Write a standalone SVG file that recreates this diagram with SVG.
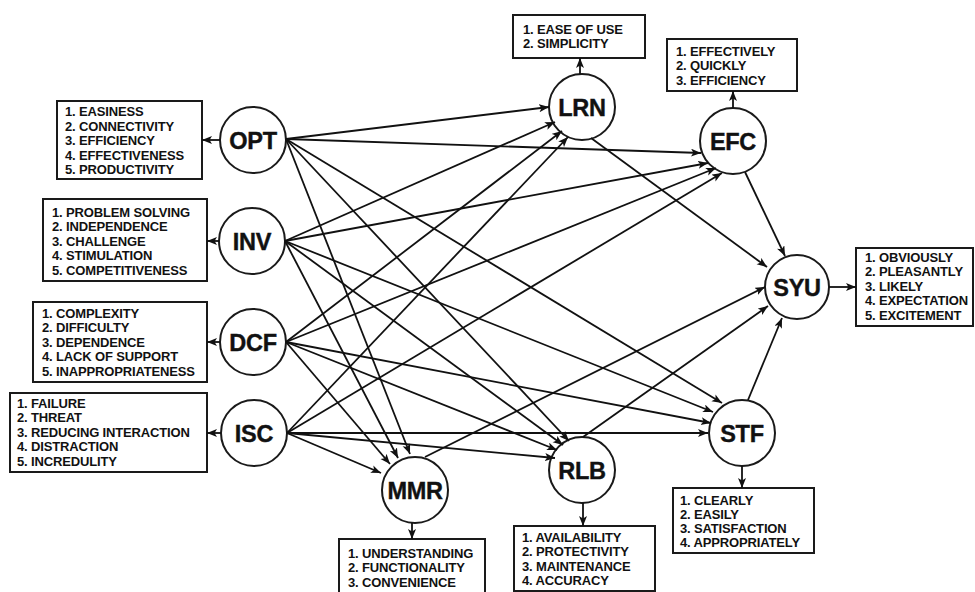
<svg xmlns="http://www.w3.org/2000/svg" width="975" height="592" viewBox="0 0 975 592">
<defs>
<style>
.box{fill:#fff;stroke:#1a1a1a;stroke-width:2}
.nd{fill:#fff;stroke:#1a1a1a;stroke-width:2}
.lbl{font-family:"Liberation Sans",Arial,sans-serif;font-weight:bold;font-size:23.5px;fill:#111;stroke:#111;stroke-width:0.4;text-anchor:middle;letter-spacing:-0.3px}
.it{font-family:"Liberation Sans",Arial,sans-serif;font-weight:bold;font-size:13px;fill:#111;letter-spacing:-0.15px}
.c line{stroke:#111;stroke-width:1.8;fill:none;marker-end:url(#ah)}
</style>
<marker id="ah" markerUnits="userSpaceOnUse" markerWidth="11" markerHeight="9" refX="10" refY="4" orient="auto" viewBox="0 0 11 9">
<path d="M0,0 L10,4 L0,8 L2.4,4 z" fill="#111"/>
</marker>
</defs>
<rect width="975" height="592" fill="#fff"/>

<g id="OPT">
<rect class="box" x="57" y="101" width="145" height="78"/>
<text class="it" x="65" y="116">1. EASINESS</text>
<text class="it" x="65" y="130.6">2. CONNECTIVITY</text>
<text class="it" x="65" y="145.2">3. EFFICIENCY</text>
<text class="it" x="65" y="159.8">4. EFFECTIVENESS</text>
<text class="it" x="65" y="174.4">5. PRODUCTIVITY</text>
<circle class="nd" cx="253" cy="140" r="33"/>
<text class="lbl" x="253" y="148.5">OPT</text>
</g>

<g id="INV">
<rect class="box" x="43" y="199" width="164" height="82"/>
<text class="it" x="52" y="216.5">1. PROBLEM SOLVING</text>
<text class="it" x="52" y="231">2. INDEPENDENCE</text>
<text class="it" x="52" y="245.5">3. CHALLENGE</text>
<text class="it" x="52" y="260">4. STIMULATION</text>
<text class="it" x="52" y="274.5">5. COMPETITIVENESS</text>
<circle class="nd" cx="252" cy="241" r="33"/>
<text class="lbl" x="252" y="249.5">INV</text>
</g>

<g id="DCF">
<rect class="box" x="33" y="302" width="174" height="80"/>
<text class="it" x="42" y="317.5">1. COMPLEXITY</text>
<text class="it" x="42" y="332">2. DIFFICULTY</text>
<text class="it" x="42" y="346.5">3. DEPENDENCE</text>
<text class="it" x="42" y="361">4. LACK OF SUPPORT</text>
<text class="it" x="42" y="375.5">5. INAPPROPRIATENESS</text>
<circle class="nd" cx="253" cy="342" r="33"/>
<text class="lbl" x="253" y="350.5">DCF</text>
</g>

<g id="ISC">
<rect class="box" x="10" y="393" width="197" height="79"/>
<text class="it" x="17" y="407.5">1. FAILURE</text>
<text class="it" x="17" y="422">2. THREAT</text>
<text class="it" x="17" y="436.5">3. REDUCING INTERACTION</text>
<text class="it" x="17" y="451">4. DISTRACTION</text>
<text class="it" x="17" y="465.5">5. INCREDULITY</text>
<circle class="nd" cx="254" cy="433" r="33"/>
<text class="lbl" x="254" y="441.5">ISC</text>
</g>

<g id="LRN">
<rect class="box" x="513" y="15" width="132" height="43"/>
<text class="it" x="523" y="33.5">1. EASE OF USE</text>
<text class="it" x="523" y="48">2. SIMPLICITY</text>
<circle class="nd" cx="582" cy="107" r="33"/>
<text class="lbl" x="582" y="115.5">LRN</text>
</g>

<g id="EFC">
<rect class="box" x="667" y="39" width="130" height="52"/>
<text class="it" x="676" y="55.5">1. EFFECTIVELY</text>
<text class="it" x="676" y="70">2. QUICKLY</text>
<text class="it" x="676" y="84.5">3. EFFICIENCY</text>
<circle class="nd" cx="733" cy="141" r="33"/>
<text class="lbl" x="733" y="149.5">EFC</text>
</g>

<g id="SYU">
<rect class="box" x="856" y="248" width="117" height="78"/>
<text class="it" x="865" y="261.5">1. OBVIOUSLY</text>
<text class="it" x="865" y="276">2. PLEASANTLY</text>
<text class="it" x="865" y="290.5">3. LIKELY</text>
<text class="it" x="865" y="305">4. EXPECTATION</text>
<text class="it" x="865" y="319.5">5. EXCITEMENT</text>
<circle class="nd" cx="797" cy="287" r="32"/>
<text class="lbl" x="797" y="295.5">SYU</text>
</g>

<g id="STF">
<rect class="box" x="673" y="488" width="141" height="65"/>
<text class="it" x="680" y="504.5">1. CLEARLY</text>
<text class="it" x="680" y="518.8">2. EASILY</text>
<text class="it" x="680" y="533.1">3. SATISFACTION</text>
<text class="it" x="680" y="547.4">4. APPROPRIATELY</text>
<circle class="nd" cx="742" cy="433" r="33"/>
<text class="lbl" x="742" y="441.5">STF</text>
</g>

<g id="RLB">
<rect class="box" x="514" y="526" width="141" height="65"/>
<text class="it" x="522" y="541.5">1. AVAILABILITY</text>
<text class="it" x="522" y="556">2. PROTECTIVITY</text>
<text class="it" x="522" y="570.5">3. MAINTENANCE</text>
<text class="it" x="522" y="585">4. ACCURACY</text>
<circle class="nd" cx="582" cy="470" r="33"/>
<text class="lbl" x="582" y="478.5">RLB</text>
</g>

<g id="MMR">
<rect class="box" x="339" y="539" width="146" height="58"/>
<text class="it" x="348" y="557.5">1. UNDERSTANDING</text>
<text class="it" x="348" y="572">2. FUNCTIONALITY</text>
<text class="it" x="348" y="586.5">3. CONVENIENCE</text>
<circle class="nd" cx="415" cy="490" r="33"/>
<text class="lbl" x="415" y="498.5">MMR</text>
</g>

<g id="connectors" class="c">
<line x1="220" y1="140" x2="202" y2="140"/>
<line x1="219" y1="241" x2="207" y2="241"/>
<line x1="220" y1="342" x2="207" y2="342"/>
<line x1="221" y1="433" x2="207" y2="433"/>
<line x1="580" y1="74" x2="580" y2="58"/>
<line x1="733" y1="108" x2="733" y2="91"/>
<line x1="829" y1="287" x2="856" y2="287"/>
<line x1="742" y1="466" x2="742" y2="488"/>
<line x1="583" y1="503" x2="583" y2="526"/>
<line x1="412" y1="523" x2="412" y2="539"/>

<line x1="286" y1="139" x2="549" y2="107"/>
<line x1="286" y1="139" x2="701" y2="153"/>
<line x1="286" y1="139" x2="722" y2="403"/>
<line x1="286" y1="139" x2="569" y2="441"/>
<line x1="286" y1="139" x2="410" y2="454"/>

<line x1="285" y1="241" x2="555" y2="122"/>
<line x1="285" y1="241" x2="708" y2="163"/>
<line x1="285" y1="241" x2="713" y2="412"/>
<line x1="285" y1="241" x2="563" y2="445"/>
<line x1="285" y1="241" x2="398" y2="458"/>

<line x1="286" y1="342" x2="562" y2="131"/>
<line x1="286" y1="342" x2="716" y2="168"/>
<line x1="286" y1="342" x2="711" y2="423"/>
<line x1="286" y1="342" x2="557" y2="450"/>
<line x1="286" y1="342" x2="390" y2="464"/>

<line x1="287" y1="433" x2="568" y2="137"/>
<line x1="287" y1="433" x2="722" y2="173"/>
<line x1="287" y1="433" x2="708" y2="433"/>
<line x1="287" y1="433" x2="555" y2="458"/>
<line x1="287" y1="433" x2="381" y2="473"/>

<line x1="591" y1="138" x2="767" y2="267"/>
<line x1="745" y1="172" x2="785" y2="256"/>
<line x1="425" y1="457" x2="765" y2="287"/>
<line x1="583" y1="437" x2="768" y2="306"/>
<line x1="748" y1="400" x2="782" y2="318"/>
</g>
</svg>
